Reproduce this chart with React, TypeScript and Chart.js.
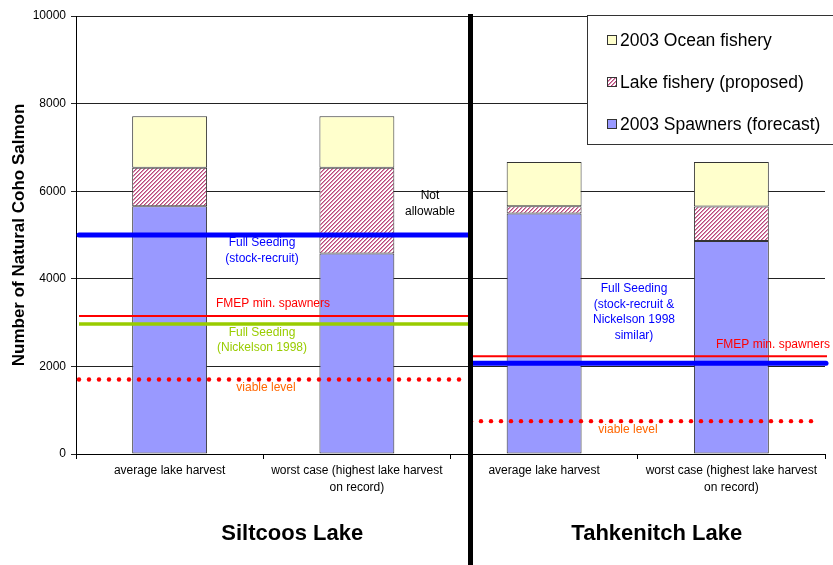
import React, { useEffect, useRef } from "react";
import { Chart, registerables } from "chart.js";

Chart.register(...registerables);

// Categories (two lakes, two harvest scenarios each)
const categories: string[][] = [
  ["average lake harvest"],
  ["worst case (highest lake harvest", "on record)"],
  ["average lake harvest"],
  ["worst case (highest lake harvest", "on record)"],
];

// Stacked series values (number of fish)
const spawners = [5655, 4575, 5490, 4865];
const lakeFishery = [880, 1960, 165, 785];
const oceanFishery = [1175, 1175, 1010, 1015];

const seriesNames = ["2003 Spawners (forecast)", "Lake fishery (proposed)", "2003 Ocean fishery"];

// Reference levels for each lake
const siltcoosLevels = { fullSeedingSR: 5000, fmep: 3150, fullSeedingNick: 2970, viable: 1700 };
const tahkenitchLevels = { fullSeeding: 2070, fmep: 2230, viable: 750 };

const yTicks = [0, 2000, 4000, 6000, 8000, 10000];
const groupNames = ["Siltcoos Lake", "Tahkenitch Lake"];

const FONT = "Arial, 'Liberation Sans', sans-serif";

function makeHatch(): CanvasPattern | string {
  const c = document.createElement("canvas");
  c.width = 4;
  c.height = 4;
  const g = c.getContext("2d");
  if (!g) return "#c06090";
  g.fillStyle = "#ffffff";
  g.fillRect(0, 0, 4, 4);
  for (let y = 0; y < 4; y++) {
    for (let x = 0; x < 4; x++) {
      const k = (x + y) % 4;
      if (k === 0) {
        g.fillStyle = "#b8487c";
        g.fillRect(x, y, 1, 1);
      } else if (k === 1) {
        g.fillStyle = "#d98fb0";
        g.fillRect(x, y, 1, 1);
      }
    }
  }
  const p = g.createPattern(c, "repeat");
  return p || "#c06090";
}

export default function App() {
  const ref = useRef<HTMLCanvasElement | null>(null);

  useEffect(() => {
    const canvas = ref.current;
    if (!canvas) return;
    const hatch = makeHatch();

    const overlay = {
      id: "overlay",
      afterDatasetsDraw(chart: any) {
        const ctx: CanvasRenderingContext2D = chart.ctx;
        const y = chart.scales.y;
        const area = chart.chartArea;
        const divider = 470.5;
        const hLine = (x1: number, x2: number, v: number, color: string, w: number, cap: CanvasLineCap = "butt") => {
          const py = y.getPixelForValue(v);
          ctx.save();
          ctx.strokeStyle = color;
          ctx.lineWidth = w;
          ctx.lineCap = cap;
          ctx.beginPath();
          ctx.moveTo(x1, py);
          ctx.lineTo(x2, py);
          ctx.stroke();
          ctx.restore();
        };
        const dotLine = (x1: number, x2: number, v: number) => {
          const py = y.getPixelForValue(v);
          ctx.save();
          ctx.fillStyle = "#ff0000";
          for (let x = x1; x <= x2; x += 10) {
            ctx.beginPath();
            ctx.arc(x, py, 2.2, 0, Math.PI * 2);
            ctx.fill();
          }
          ctx.restore();
        };
        const text = (lines: string[], cx: number, cy: number, color: string, size = 12, lh = 15.5) => {
          ctx.save();
          ctx.fillStyle = color;
          ctx.font = `${size}px ${FONT}`;
          ctx.textAlign = "center";
          ctx.textBaseline = "middle";
          lines.forEach((l, i) => ctx.fillText(l, cx, cy + i * lh));
          ctx.restore();
        };

        // Siltcoos reference levels
        hLine(79, divider, siltcoosLevels.fmep, "#ff0000", 2);
        hLine(79, divider, siltcoosLevels.fullSeedingNick, "#99cc00", 3.5);
        hLine(79, divider, siltcoosLevels.fullSeedingSR, "#0000ff", 5, "round");
        dotLine(79, 462, siltcoosLevels.viable);

        // Tahkenitch reference levels
        hLine(divider, 827, tahkenitchLevels.fmep, "#ff0000", 2);
        hLine(divider, 826, tahkenitchLevels.fullSeeding, "#0000ff", 5, "round");
        dotLine(471, 811, tahkenitchLevels.viable);

        // Annotations
        text(["Not", "allowable"], 430, 196, "#000000", 12, 16);
        text(["Full Seeding", "(stock-recruit)"], 262, 243, "#0000ff", 12, 16);
        text(["FMEP min. spawners"], 273, 304, "#ff0000", 12);
        text(["Full Seeding", "(Nickelson 1998)"], 262, 333, "#99cc00", 12, 15);
        text(["viable level"], 266, 388, "#ff6600", 12);
        text(["Full Seeding", "(stock-recruit &", "Nickelson 1998", "similar)"], 634, 289, "#0000ff", 12, 15.5);
        text(["FMEP min. spawners"], 773, 345, "#ff0000", 12);
        text(["viable level"], 628, 430, "#ff6600", 12);

        // Legend box
        ctx.save();
        ctx.fillStyle = "#ffffff";
        ctx.fillRect(587, 15, 250, 130);
        ctx.strokeStyle = "#333333";
        ctx.lineWidth = 1;
        ctx.strokeRect(587.5, 15.5, 260, 129);
        const legendRows = [
          { name: seriesNames[2], fill: "#ffffcc" as any, y: 40 },
          { name: seriesNames[1], fill: hatch as any, y: 82 },
          { name: seriesNames[0], fill: "#9999ff" as any, y: 124 },
        ];
        legendRows.forEach((r) => {
          ctx.fillStyle = r.fill;
          ctx.fillRect(607, r.y - 5, 9, 9);
          ctx.strokeStyle = "#333333";
          ctx.strokeRect(607.5, r.y - 4.5, 9, 9);
          ctx.fillStyle = "#000000";
          ctx.font = `17.5px ${FONT}`;
          ctx.textAlign = "left";
          ctx.textBaseline = "middle";
          ctx.fillText(r.name, 620, r.y + 1);
        });
        ctx.restore();

        // Y axis title
        ctx.save();
        ctx.translate(19, (area.top + area.bottom) / 2);
        ctx.rotate(-Math.PI / 2);
        ctx.fillStyle = "#000000";
        ctx.font = `bold 17px ${FONT}`;
        ctx.textAlign = "center";
        ctx.textBaseline = "middle";
        ctx.fillText("Number of Natural Coho Salmon", 0, 0);
        ctx.restore();

        // Lake group labels
        const x = chart.scales.x;
        const c1 = (x.getPixelForValue(0) + x.getPixelForValue(1)) / 2;
        const c2 = (x.getPixelForValue(2) + x.getPixelForValue(3)) / 2;
        ctx.save();
        ctx.fillStyle = "#000000";
        ctx.font = `bold 22px ${FONT}`;
        ctx.textAlign = "center";
        ctx.textBaseline = "middle";
        ctx.fillText(groupNames[0], c1 + 29, 534);
        ctx.fillText(groupNames[1], c2 + 19, 534);
        ctx.restore();

        // Divider between lakes
        ctx.save();
        ctx.fillStyle = "#000000";
        ctx.fillRect(468, 14, 5, 565);
        ctx.restore();
      },
    };

    const chart = new Chart(canvas, {
      type: "bar",
      data: {
        labels: categories,
        datasets: [
          { label: seriesNames[0], data: spawners, backgroundColor: "#9999ff" },
          { label: seriesNames[1], data: lakeFishery, backgroundColor: hatch as any },
          { label: seriesNames[2], data: oceanFishery, backgroundColor: "#ffffcc" },
        ].map((d) => ({
          ...d,
          borderColor: "#333333",
          borderWidth: 1,
          borderSkipped: false,
          barPercentage: 0.4,
          categoryPercentage: 1,
        })),
      },
      options: {
        responsive: false,
        animation: false,
        devicePixelRatio: 1,
        layout: { padding: { left: 0, top: 16, right: 8, bottom: 0 } },
        plugins: { legend: { display: false }, tooltip: { enabled: false } },
        scales: {
          x: {
            stacked: true,
            afterFit: (s: any) => {
              s.height = 111;
            },
            grid: {
              offset: true,
              drawOnChartArea: false,
              drawTicks: true,
              tickLength: 5,
              color: "#000000",
            },
            border: { display: true, color: "#000000", width: 1 },
            ticks: {
              color: "#000000",
              font: { family: FONT, size: 12, lineHeight: 1.4 },
              padding: 3,
              maxRotation: 0,
              autoSkip: false,
            },
          },
          y: {
            stacked: true,
            min: 0,
            max: 10000,
            afterFit: (s: any) => {
              s.width = 76;
            },
            afterBuildTicks: (s: any) => {
              s.ticks = yTicks.map((v) => ({ value: v }));
            },
            grid: { color: "#222222", lineWidth: 1, tickLength: 5 },
            border: { display: true, color: "#000000", width: 1 },
            ticks: {
              color: "#000000",
              font: { family: FONT, size: 12 },
              padding: 5,
              callback: (v: any) => String(v),
            },
          },
        },
      },
      plugins: [overlay],
    } as any);

    return () => chart.destroy();
  }, []);

  return (
    <div style={{ position: "fixed", left: 0, top: 0, width: 833, height: 565, background: "#ffffff" }}>
      <canvas ref={ref} width={833} height={565} />
    </div>
  );
}
